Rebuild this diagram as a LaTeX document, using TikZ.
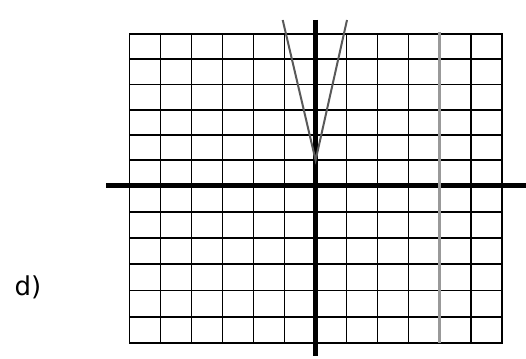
\documentclass[tikz,border=0pt]{standalone}
\usepackage{fontspec}
\setmainfont{DejaVu Sans}
\usepackage{tikz}

\begin{document}
\begin{tikzpicture}[
  x=1pt, y=-1pt,
  gridline/.style={line width=1.6pt, line cap=rect},
  axisline/.style={line width=4.5pt},
  graphline/.style={line width=2pt, draw=black!65},
  vertline/.style={line width=2.5pt, draw=black!40},
  lab/.style={font=\fontsize{26}{30}\selectfont, inner sep=0pt}
]
\useasboundingbox (0,0) rectangle (526,358);
% grid
\foreach \i in {0,...,12}
  \draw[gridline] ({129.5+31.02*\i},34) -- ({129.5+31.02*\i},343);
\foreach \y in {34,59.25,84.5,109.75,135,160.25,211.75,238,264.25,290.5,316.75,343}
  \draw[gridline] (129.5,\y) -- (501.7,\y);
% axes
\draw[axisline] (106,185.5) -- (526,185.5);
\draw[axisline] (315.6,20) -- (315.6,356);
% graph
\coordinate (vtop1) at (282.7,20);
\coordinate (vtip) at (315.6,160.25);
\coordinate (vtop2) at (347,20);
\draw[graphline] (vtop1) -- (vtip) -- (vtop2);
\coordinate (gtop) at (439.7,32);
\coordinate (gbot) at (439.7,343);
\draw[vertline] (gtop) -- (gbot);
% label
\node[lab] (part) at (28,287) {d)};
\end{tikzpicture}
\end{document}
